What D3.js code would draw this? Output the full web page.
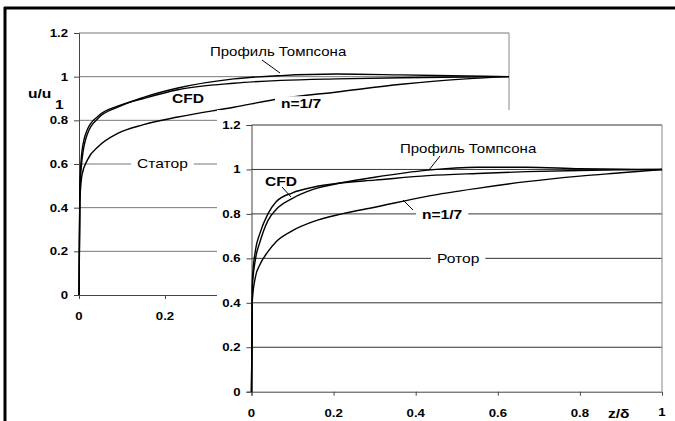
<!DOCTYPE html>
<html>
<head>
<meta charset="utf-8">
<script src="https://cdn.jsdelivr.net/npm/d3@7"></script>
<style>
  body { margin: 0; background: #fff; }
  text { font-family: "Liberation Sans", Arial, sans-serif; }
</style>
</head>
<body>
<div id="chart"></div>
<script>
// tick values, shared by both panels
var yTicks = [0, 0.2, 0.4, 0.6, 0.8, 1, 1.2];
var yTickLabels = ["0", "0.2", "0.4", "0.6", "0.8", "1", "1.2"];
var xTicks = [0, 0.2, 0.4, 0.6, 0.8, 1];
var xTickLabels = ["0", "0.2", "0.4", "0.6", "0.8", "1"];

// stator (back panel)
var statorZ        = [0, 0.002, 0.007, 0.02, 0.045, 0.09, 0.15, 0.23, 0.36, 0.47, 0.6, 0.75, 0.9, 1];
var statorCFD      = [0, 0.50, 0.66, 0.76, 0.82, 0.865, 0.90, 0.94, 0.97, 0.983, 0.99, 0.995, 0.998, 1];
var statorThompson = [0, 0.47, 0.62, 0.74, 0.81, 0.86, 0.905, 0.948, 0.99, 1.005, 1.012, 1.008, 1.003, 1];
var statorPower    = [0, 0.43, 0.55, 0.62, 0.68, 0.74, 0.78, 0.815, 0.86, 0.90, 0.93, 0.965, 0.99, 1];

// rotor (front panel)
var rotorZ        = [0, 0.002, 0.01, 0.02, 0.04, 0.06, 0.1, 0.15, 0.22, 0.3, 0.43, 0.55, 0.67, 0.8, 0.9, 1];
var rotorCFD      = [0, 0.50, 0.64, 0.71, 0.80, 0.855, 0.895, 0.92, 0.94, 0.952, 0.972, 0.982, 0.99, 0.995, 0.998, 1];
var rotorThompson = [0, 0.47, 0.60, 0.67, 0.77, 0.82, 0.87, 0.91, 0.94, 0.965, 0.997, 1.01, 1.01, 1.003, 1.001, 1];
var rotorPower    = [0, 0.41, 0.52, 0.57, 0.63, 0.675, 0.725, 0.765, 0.80, 0.83, 0.88, 0.915, 0.945, 0.97, 0.985, 1];

var width = 675, height = 421;
var sx = 1.2; // the picture is stretched horizontally

var svg = d3.select("#chart").append("svg")
  .attr("width", width).attr("height", height);

// text helper: stretched text, optional white box behind it
function label(x, y, str, size, bold, anchor, boxed) {
  var g = svg.append("g").attr("transform", `translate(${x},${y}) scale(${sx},1)`);
  var t = g.append("text")
    .attr("font-size", size + "px")
    .attr("font-weight", bold ? "bold" : "normal")
    .attr("text-anchor", anchor || "start")
    .attr("fill", "#000")
    .text(str);
  if (boxed) {
    var b = t.node().getBBox();
    g.insert("rect", "text")
      .attr("x", b.x - 5).attr("y", b.y)
      .attr("width", b.width + 10).attr("height", b.height)
      .attr("fill", "#fff");
  }
  return t;
}

function leader(x1, y1, x2, y2) {
  svg.append("line")
    .attr("x1", x1).attr("y1", y1).attr("x2", x2).attr("y2", y2)
    .attr("stroke", "#000").attr("stroke-width", 1);
}

// draws one panel: grid, axes, three curves
function drawPanel(p) {
  var x = d3.scaleLinear().domain([0, 1]).range([p.left, p.right]);
  var y = d3.scaleLinear().domain([0, 1.2]).range([p.bottom, p.top]);

  // gridlines
  svg.append("g").selectAll("line").data(yTicks.slice(1)).join("line")
    .attr("x1", x(0)).attr("x2", x(1))
    .attr("y1", d => y(d)).attr("y2", d => y(d))
    .attr("stroke", p.grid).attr("stroke-width", 1);

  // right border
  svg.append("line")
    .attr("x1", x(1)).attr("x2", x(1)).attr("y1", y(1.2)).attr("y2", y(0))
    .attr("stroke", "#888").attr("stroke-width", 1);

  // y axis
  var ya = svg.append("g").attr("transform", `translate(${x(0)},0)`)
    .call(d3.axisLeft(y).tickValues(yTicks).tickSize(5).tickFormat(""));
  ya.select(".domain").attr("stroke", "#444");
  ya.selectAll(".tick line").attr("stroke", "#444");
  yTicks.forEach(function(v, i) {
    label(x(0) - 11, y(v) + 4, yTickLabels[i], 11, true, "end");
  });

  // x axis
  var xa = svg.append("g").attr("transform", `translate(0,${y(0)})`)
    .call(d3.axisBottom(x).tickValues(p.xTicks).tickSize(4).tickFormat(""));
  xa.select(".domain").attr("stroke", "#444");
  xa.selectAll(".tick line").attr("stroke", "#444");
  p.xTicks.forEach(function(v) {
    label(x(v), p.bottom + p.xLabelDy, xTickLabels[xTicks.indexOf(v)], 11, true, "middle");
  });

  // curves
  var line = d3.line()
    .x(d => x(d[0])).y(d => y(d[1]))
    .curve(d3.curveMonotoneX);
  p.series.forEach(function(s) {
    svg.append("path")
      .datum(p.z.map((z, i) => [z, s[i]]))
      .attr("d", line)
      .attr("fill", "none")
      .attr("stroke", "#000")
      .attr("stroke-width", 1.4);
  });
  return {x: x, y: y};
}

// ---- back panel: stator ----
drawPanel({
  left: 79, right: 509, top: 33, bottom: 295,
  grid: "#777", xTicks: [0, 0.2, 0.4], xLabelDy: 25,
  z: statorZ, series: [statorPower, statorThompson, statorCFD]
});

label(28, 98, "u/u", 13, true, "start");
label(55, 109, "1", 13, true, "start");
label(210, 56, "Профиль Томпсона", 12.5, false, "start");
leader(262, 60, 280, 73);
label(172, 103, "CFD", 13, true, "start");
label(281, 108, "n=1/7", 13, true, "start", true);
label(137, 168, "Статор", 13, false, "start", true);

// white sheet under the front panel
svg.append("rect")
  .attr("x", 217).attr("y", 110)
  .attr("width", width - 217).attr("height", height - 110)
  .attr("fill", "#fff");

// ---- front panel: rotor ----
drawPanel({
  left: 251.5, right: 662, top: 125, bottom: 391.7,
  grid: "#333", xTicks: xTicks.slice(0, 5), xLabelDy: 25,
  z: rotorZ, series: [rotorPower, rotorThompson, rotorCFD]
});
label(662, 416, "1", 11, true, "middle");

label(400, 153, "Профиль Томпсона", 12.5, false, "start");
leader(440, 156, 429, 170);
label(265, 186, "CFD", 13, true, "start");
leader(282, 187, 291, 197);
label(422, 219, "n=1/7", 13, true, "start", true);
leader(403, 200, 413, 210);
label(437, 263, "Ротор", 13, false, "start", true);
label(608, 418, "z/δ", 13, true, "start");

// outer frame (top and left edges only are in view)
svg.append("line").attr("x1", 4).attr("x2", width).attr("y1", 8).attr("y2", 8)
  .attr("stroke", "#000").attr("stroke-width", 3);
svg.append("line").attr("x1", 5).attr("x2", 5).attr("y1", 7).attr("y2", height)
  .attr("stroke", "#000").attr("stroke-width", 3);
</script>
</body>
</html>
